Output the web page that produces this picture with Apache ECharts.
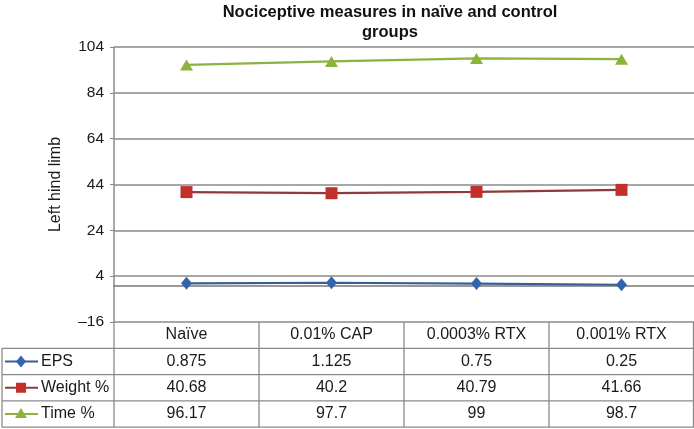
<!DOCTYPE html>
<html>
<head>
<meta charset="utf-8">
<script src="https://cdn.jsdelivr.net/npm/echarts@6/dist/echarts.min.js"></script>
<style>
html,body{margin:0;padding:0;background:#fff;}
#c{width:694px;height:429px;}
</style>
</head>
<body>
<div id="c"></div>
<script>
var categories = ['Naïve', '0.01% CAP', '0.0003% RTX', '0.001% RTX'];
var seriesNames = ['EPS', 'Weight %', 'Time %'];
var epsValues = [0.875, 1.125, 0.75, 0.25];
var weightValues = [40.68, 40.2, 40.79, 41.66];
var timeValues = [96.17, 97.7, 99, 98.7];
var yTicks = [-16, 4, 24, 44, 64, 84, 104];
var titleText = 'Nociceptive measures in naïve and control\ngroups';
var yName = 'Left hind limb';

var lineColors = ['#3a5d96', '#8e3a3a', '#8db23f'];
var markColors = ['#3464ad', '#c2302e', '#8ab43a'];
var symbols = ['diamond', 'rect', 'triangle'];
var symbolSizes = [[11, 13], 12, [13, 11]];
var allValues = [epsValues, weightValues, timeValues];
var gridColor = '#8a8a8a';
var textColor = '#1a1a1a';
var FONT = 'Liberation Sans, Arial, sans-serif';

var chart = echarts.init(document.getElementById('c'), null, {renderer: 'canvas'});

var series = seriesNames.map(function (n, i) {
  return {
    name: n, type: 'line', data: allValues[i],
    symbol: symbols[i], symbolSize: symbolSizes[i],
    lineStyle: {color: lineColors[i], width: 2.2},
    itemStyle: {color: markColors[i]},
    z: 3 + i
  };
});

chart.setOption({
  animation: false,
  title: {
    text: titleText, left: 385, top: -3, textAlign: 'center',
    textStyle: {fontFamily: FONT, fontSize: 16.5, fontWeight: 'bold', color: '#111', lineHeight: 20}
  },
  grid: {left: 114, right: -4, top: 47, bottom: 107, containLabel: false},
  xAxis: [{
    type: 'category', data: categories, boundaryGap: true,
    axisLine: {show: true, onZero: true, lineStyle: {color: '#777', width: 1.5}},
    axisTick: {show: false}, axisLabel: {show: false}, splitLine: {show: false}
  }, {
    type: 'category', data: categories, boundaryGap: true, position: 'bottom',
    axisLine: {show: false, onZero: false}, axisTick: {show: false},
    axisLabel: {show: true, margin: 13, verticalAlign: 'middle', fontFamily: FONT, fontSize: 16, color: textColor}
  }],
  yAxis: {
    type: 'value', min: -16, max: 104,
    name: yName, nameLocation: 'middle', nameGap: 50, nameRotate: 90,
    nameTextStyle: {fontFamily: FONT, fontSize: 16, color: textColor},
    axisLine: {show: true, lineStyle: {color: gridColor, width: 1.5}},
    axisTick: {show: true, inside: false, length: 4, customValues: yTicks, lineStyle: {color: gridColor}},
    axisLabel: {customValues: yTicks, margin: 10, fontFamily: FONT, fontSize: 15.5, color: textColor,
      formatter: function (v) { return v < 0 ? '\u2013' + Math.abs(v) : String(v); }},
    splitLine: {show: true, lineStyle: {color: gridColor, width: 1.5}}
  },
  series: series
});

// Data table beneath the plot, built from the arrays above
var yTop = chart.convertToPixel({yAxisIndex: 0}, -16);
var xs = categories.map(function (c, i) { return chart.convertToPixel({xAxisIndex: 0}, i); });
var colW = xs.length > 1 ? xs[1] - xs[0] : 146;
var leftEdge = xs[0] - colW / 2;
var rowH = 26.3;
var g = [];
var lineStyle = {stroke: gridColor, lineWidth: 1.3};
function hline(x1, x2, y) { g.push({type: 'line', shape: {x1: x1, y1: y, x2: x2, y2: y}, style: lineStyle, silent: true, z: 10}); }
function vline(x, y1, y2) { g.push({type: 'line', shape: {x1: x, y1: y1, x2: x, y2: y2}, style: lineStyle, silent: true, z: 10}); }
var bottom = yTop + rowH * 4;
for (var r = 1; r <= 4; r++) hline(2, 694, yTop + rowH * r);
vline(2, yTop + rowH, bottom);
for (var k = 0; k <= categories.length; k++) vline(leftEdge + colW * k, yTop, bottom);
vline(693.5, yTop, bottom);
seriesNames.forEach(function (n, i) {
  var cy = yTop + rowH * (i + 1) + rowH / 2;
  g.push({type: 'line', shape: {x1: 5, y1: cy, x2: 38, y2: cy}, style: {stroke: lineColors[i], lineWidth: 2}, z: 11});
  var path;
  if (i === 0) path = {type: 'polygon', shape: {points: [[21, cy - 6], [26, cy], [21, cy + 6], [16, cy]]}};
  else if (i === 1) path = {type: 'rect', shape: {x: 16, y: cy - 5, width: 10, height: 10}};
  else path = {type: 'polygon', shape: {points: [[21, cy - 6], [27, cy + 4], [15, cy + 4]]}};
  path.style = {fill: markColors[i]}; path.z = 12;
  g.push(path);
  g.push({type: 'text', x: 41, y: cy, style: {text: n, fontFamily: FONT, fontSize: 16, fill: textColor, textVerticalAlign: 'middle', textAlign: 'left'}, z: 12});
  allValues[i].forEach(function (v, j) {
    g.push({type: 'text', x: xs[j], y: cy, style: {text: String(v), fontFamily: FONT, fontSize: 16, fill: textColor, textVerticalAlign: 'middle', textAlign: 'center'}, z: 12});
  });
});
chart.setOption({graphic: g});
</script>
</body>
</html>
